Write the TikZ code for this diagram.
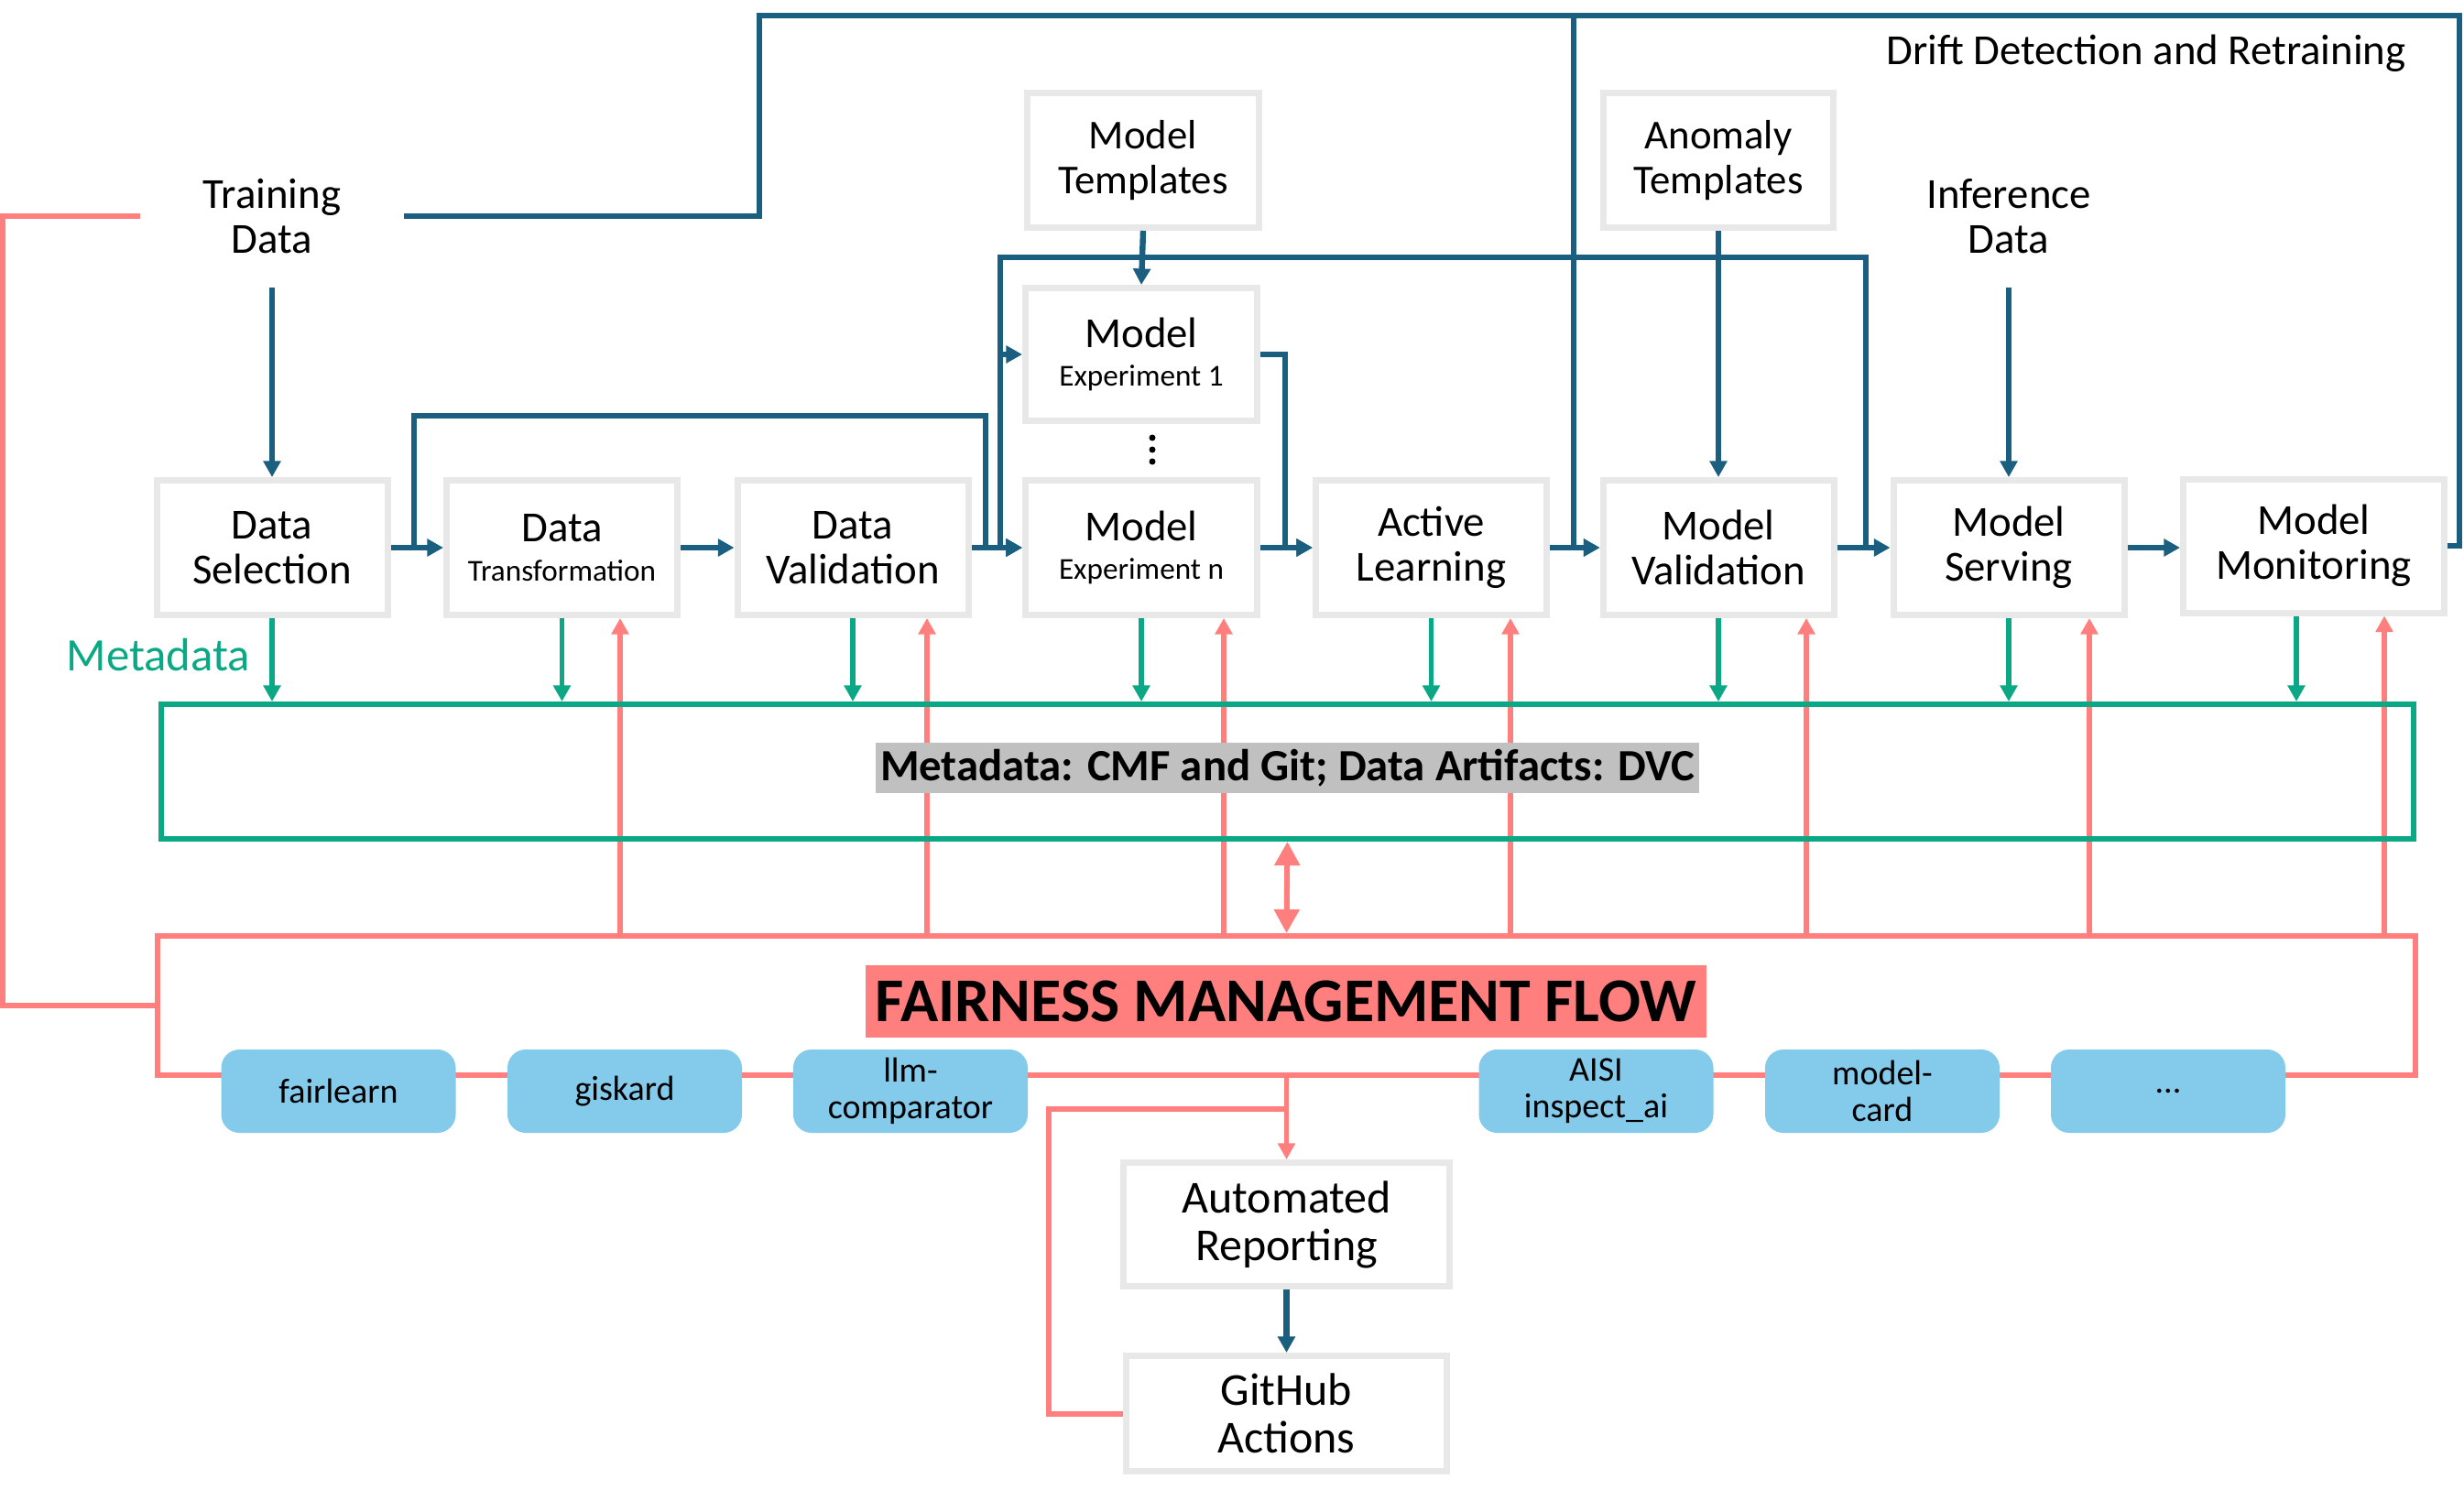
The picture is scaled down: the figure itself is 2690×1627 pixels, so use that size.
\documentclass[tikz,border=0pt]{standalone}
\usepackage{fontspec}
\setmainfont{Carlito}
\usetikzlibrary{arrows.meta,calc}
\definecolor{cblue}{RGB}{26,94,128}
\definecolor{cgreen}{RGB}{10,168,132}
\definecolor{cpink}{RGB}{255,127,127}
\definecolor{cbox}{RGB}{232,232,232}
\definecolor{ctool}{RGB}{131,202,235}
\definecolor{cgraybg}{RGB}{192,192,192}
\newcommand{\fMain}{\fontsize{11.7}{12.25}\selectfont}
\newcommand{\fSub}{\fontsize{8.3}{10}\selectfont}
\newcommand{\fTool}{\fontsize{9.5}{9.9}\selectfont}
\tikzset{
  box/.style={draw=cbox, line width=1.75pt, fill=white, minimum width=63pt, minimum height=36.75pt, align=center, inner sep=0pt, font=\fMain},
  plain/.style={align=center, inner sep=0pt, font=\fMain},
  tool/.style={fill=ctool, rounded corners=5pt, minimum width=64pt, minimum height=22.75pt, align=center, inner sep=0pt, font=\fTool},
  bline/.style={draw=cblue, line width=1.6pt},
  barrow/.style={bline, -{Triangle[length=4.4pt,width=4.6pt]}},
  garrow/.style={draw=cgreen, line width=1.35pt, -{Triangle[length=4.4pt,width=4.6pt]}},
  pline/.style={draw=cpink, line width=1.5pt},
  parrow/.style={draw=cpink, line width=1.45pt, -{Triangle[length=4.4pt,width=4.6pt]}},
  pdarrow/.style={draw=cpink, line width=1.5pt, {Triangle[length=6.5pt,width=6.7pt]}-{Triangle[length=6.5pt,width=6.7pt]}}
}
\begin{document}
\begin{tikzpicture}[x=0.25pt,y=-0.25pt]
\useasboundingbox (0,0) rectangle (2690,1627);

% text sources
\node[plain, minimum width=71.5pt, minimum height=38.5pt] (td) at (297,236) {Training\\Data};
\node[plain, minimum width=71.5pt, minimum height=38.5pt] (id) at (2193,236) {Inference\\Data};
\node[plain] (drift) at (2343,58) {Drift Detection and Retraining};

% main row
\node[box] (ds) at (297,598) {Data\\Selection};
\node[box] (dt) at (613.5,598) {Data\\[-1.5pt]{\fSub Transformation}};
\node[box] (dv) at (931,598) {Data\\Validation};
\node[box, minimum width=63.25pt] (en) at (1246,598) {Model\\[-1.75pt]{\fSub Experiment n}};
\node[box] (al) at (1562.5,598) {Active\\Learning};
\node[box] (mv) at (1876,598) {Model\\Validation};
\node[box] (ms) at (2193,598) {Model\\Serving};
\node[box, minimum width=71.25pt, minimum height=36.5pt] (mm) at (2526,596) {Model\\Monitoring};

% upper boxes
\node[box, minimum width=63.25pt, font=\fontsize{11.2}{12.25}\selectfont] (mt) at (1248,175) {Model\\Templates};
\node[box, minimum width=63.25pt, minimum height=36.25pt] (e1) at (1246,387) {Model\\[-1.75pt]{\fSub Experiment 1}};
\node[box, minimum width=62.75pt, font=\fontsize{11.2}{12.25}\selectfont] (at) at (1876,175) {Anomaly\\Templates};

% dots
\fill (1258,478) circle (3.5);
\fill (1258,491) circle (3.5);
\fill (1258,504) circle (3.5);

% bottom boxes
\node[box, minimum width=89pt, minimum height=33.75pt, font=\fontsize{12.5}{13}\selectfont] (ar) at (1404.5,1337) {Automated\\Reporting};
\node[box, minimum width=87.5pt, minimum height=31.5pt, font=\fontsize{12.5}{13}\selectfont] (ga) at (1404.5,1543.5) {GitHub\\Actions};

% fairness box
\node[draw=cpink, line width=1.5pt, minimum width=616.25pt, minimum height=38pt, inner sep=0pt] (fmf) at (1404.5,1098) {};
\node[fill=cpink, minimum width=229.5pt, minimum height=19.75pt, inner sep=0pt, font=\fontsize{17}{18}\selectfont\bfseries] (flabel) at (1404,1093.5) {FAIRNESS MANAGEMENT FLOW};

% pink arrows up
\foreach \n/\dx in {dt/63.5, dv/81, en/90, al/86.5, mv/96, ms/88, mm/77} {
  \coordinate (ptmp) at ($(\n.south)+(\dx,0)$);
  \draw[parrow] (fmf.north -| ptmp) -- (ptmp);
}

% metadata box
\node[draw=cgreen, line width=1.5pt, minimum width=614.75pt, minimum height=36.75pt, inner sep=0pt] (meta) at (1405.5,842.5) {};
\node[fill=cgraybg, minimum width=224.75pt, minimum height=13.75pt, inner sep=0pt, font=\fontsize{12.2}{13}\selectfont\bfseries] (mlabel) at (1405.5,838.5) {Metadata: CMF and Git; Data Artifacts: DVC};
\node[plain, text=cgreen, font=\fontsize{12.7}{13}\selectfont] (mdtext) at (173,715) {Metadata};

% green arrows
\foreach \n in {ds,dt,dv,en,al,mv,ms} {
  \draw[garrow] (\n.south) -- (\n.south |- meta.north);
}
\coordinate (gmm) at ($(mm.south)+(-19,0)$);
\draw[garrow] (gmm) -- (gmm |- meta.north);

% double arrow
\draw[pdarrow] (meta.south) -- (fmf.north);

% pink connectors
\draw[pline] (td.west) -- ++(-150,0) |- (fmf.west);
\draw[parrow] (fmf.south -| ar.north) -- (ar.north);
\coordinate (pj) at (1404.5,1211);
\draw[pline] (ga.west) -- ++(-81,0) |- (pj);

% tool boxes
\node[tool] (t1) at (369.5,1191.5) {fairlearn};
\node[tool] (t2) at (682,1191.5) {giskard};
\node[tool] (t3) at (994,1191.5) {llm-\\comparator};
\node[tool] (t4) at (1742.5,1191.5) {AISI\\inspect\_ai};
\node[tool] (t5) at (2055,1191.5) {model-\\card};
\node[tool] (t6) at (2367,1191.5) {...};

% blue connectors
\draw[barrow] (td.south) -- (ds.north);
\draw[barrow] (id.south) -- (ms.north);
\coordinate (topR) at (2685,17);
\coordinate (topL) at (829,17);
\coordinate (topV) at (1718,17);
\draw[bline] (mm.east) -| (topR) -- (topL) |- (td.east);
\draw[barrow] (topV) |- (mv.west);
\draw[barrow] (ds.east) -- (dt.west);
\coordinate (j1) at (452,598);
\coordinate (j2) at (1076,454);
\draw[barrow] (j1) |- (j2) |- (en.west);
\draw[barrow] (dt.east) -- (dv.west);
\draw[barrow] (dv.east) -- (en.west);
\draw[barrow] (mt.south) -- (e1.north);
\coordinate (k1) at (1092,281);
\coordinate (k2) at (2037,281);
\draw[barrow] (mv.east) -- (ms.west);
\draw[barrow] (ms.west -| k2) -- (k2) -- (k1) |- (en.west);
\draw[barrow] (k1 |- e1.west) -- (e1.west);
\draw[barrow] (e1.east) -- ++(27,0) |- (al.west);
\draw[barrow] (en.east) -- (al.west);
\draw[barrow] (al.east) -- (mv.west);
\draw[barrow] (at.south) -- (mv.north);
\draw[barrow] (ms.east) -- (ms.east -| mm.west);
\draw[barrow] (ar.south) -- (ga.north);
\end{tikzpicture}
\end{document}
